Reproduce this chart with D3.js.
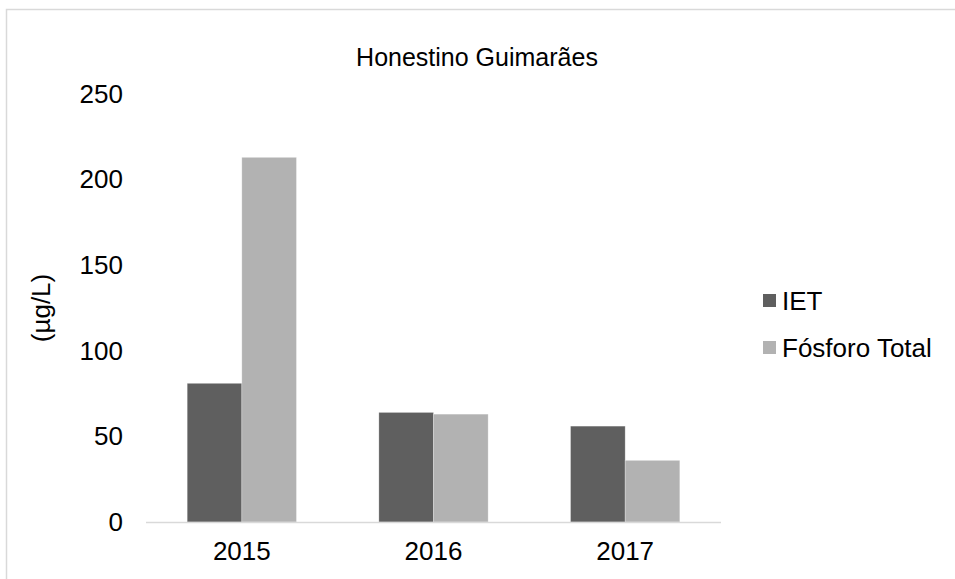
<!DOCTYPE html>
<html>
<head>
<meta charset="utf-8">
<script src="https://cdn.jsdelivr.net/npm/d3@7"></script>
<style>
  html, body { margin: 0; padding: 0; background: #fff; }
  svg { display: block; font-family: "Liberation Sans", Arial, sans-serif; }
</style>
</head>
<body>
<svg id="chart" width="955" height="579"></svg>
<script>
// Annual values for the Honestino Guimarães station
const years = ["2015", "2016", "2017"];
const seriesNames = ["IET", "Fósforo Total"];
const ietValues = [81, 64, 56];
const fosforoValues = [213, 63, 36];
const yTicks = [0, 50, 100, 150, 200, 250];
const colors = ["#5f5f5f", "#b2b2b2"];

const svg = d3.select("#chart");
const W = 955, H = 579;
const FS = 26;
const plot = { left: 146, right: 721, top: 94, bottom: 522 };

// Outer chart frame
svg.append("rect")
  .attr("x", 6.5).attr("y", 9.5)
  .attr("width", W + 10).attr("height", H + 10)
  .attr("fill", "#fff").attr("stroke", "#d9d9d9").attr("stroke-width", 1.5);

const x0 = d3.scaleBand().domain(years).range([plot.left, plot.right]).paddingInner(0.43).paddingOuter(0.215);
const x1 = d3.scaleBand().domain(seriesNames).range([0, x0.bandwidth()]);
const y = d3.scaleLinear().domain([0, 250]).range([plot.bottom, plot.top]);

const rows = years.map((yr, i) => ({ year: yr, values: [ietValues[i], fosforoValues[i]] }));

// Bars
const groups = svg.append("g").selectAll("g").data(rows).join("g")
  .attr("transform", d => `translate(${x0(d.year)},0)`);
groups.selectAll("rect")
  .data(d => d.values.map((v, k) => ({ key: seriesNames[k], value: v, k })))
  .join("rect")
  .attr("x", d => x1(d.key))
  .attr("y", d => y(d.value))
  .attr("width", x1.bandwidth())
  .attr("height", d => y(0) - y(d.value))
  .attr("fill", d => colors[d.k])
  .attr("stroke", "#ffffff").attr("stroke-opacity", 0.35).attr("stroke-width", 0.75);

// Baseline
svg.append("line")
  .attr("x1", plot.left).attr("x2", plot.right)
  .attr("y1", y(0) + 0.5).attr("y2", y(0) + 0.5)
  .attr("stroke", "#d9d9d9").attr("stroke-width", 1.5);

// Y tick labels
const yAxis = d3.axisLeft(y).tickValues(yTicks).tickSize(0).tickPadding(0);
const yg = svg.append("g").attr("transform", `translate(123,0)`).call(yAxis);
yg.select(".domain").remove();
yg.selectAll("text").attr("font-size", FS).attr("fill", "#000")
  .attr("font-family", "Liberation Sans, Arial, sans-serif");

// X tick labels
const xAxis = d3.axisBottom(x0).tickSize(0).tickPadding(0);
const xg = svg.append("g").attr("transform", `translate(0,${plot.bottom + 20})`).call(xAxis);
xg.select(".domain").remove();
xg.selectAll("text").attr("font-size", FS).attr("fill", "#000")
  .attr("font-family", "Liberation Sans, Arial, sans-serif");

// Title
svg.append("text")
  .attr("x", 477).attr("y", 66)
  .attr("text-anchor", "middle").attr("font-size", 25).attr("fill", "#000")
  .text("Honestino Guimarães");

// Y axis title
svg.append("text")
  .attr("transform", "translate(50,308) rotate(-90)")
  .attr("text-anchor", "middle").attr("font-size", FS).attr("fill", "#000")
  .text("(µg/L)");

// Legend
const legend = svg.append("g").selectAll("g").data(seriesNames).join("g")
  .attr("transform", (d, i) => `translate(763,${300 + i * 47})`);
legend.append("rect")
  .attr("x", 0).attr("y", -6).attr("width", 13).attr("height", 13)
  .attr("fill", (d, i) => colors[i]);
legend.append("text")
  .attr("x", 19).attr("y", 9.5)
  .attr("font-size", FS).attr("fill", "#000")
  .text(d => d);
</script>
</body>
</html>
